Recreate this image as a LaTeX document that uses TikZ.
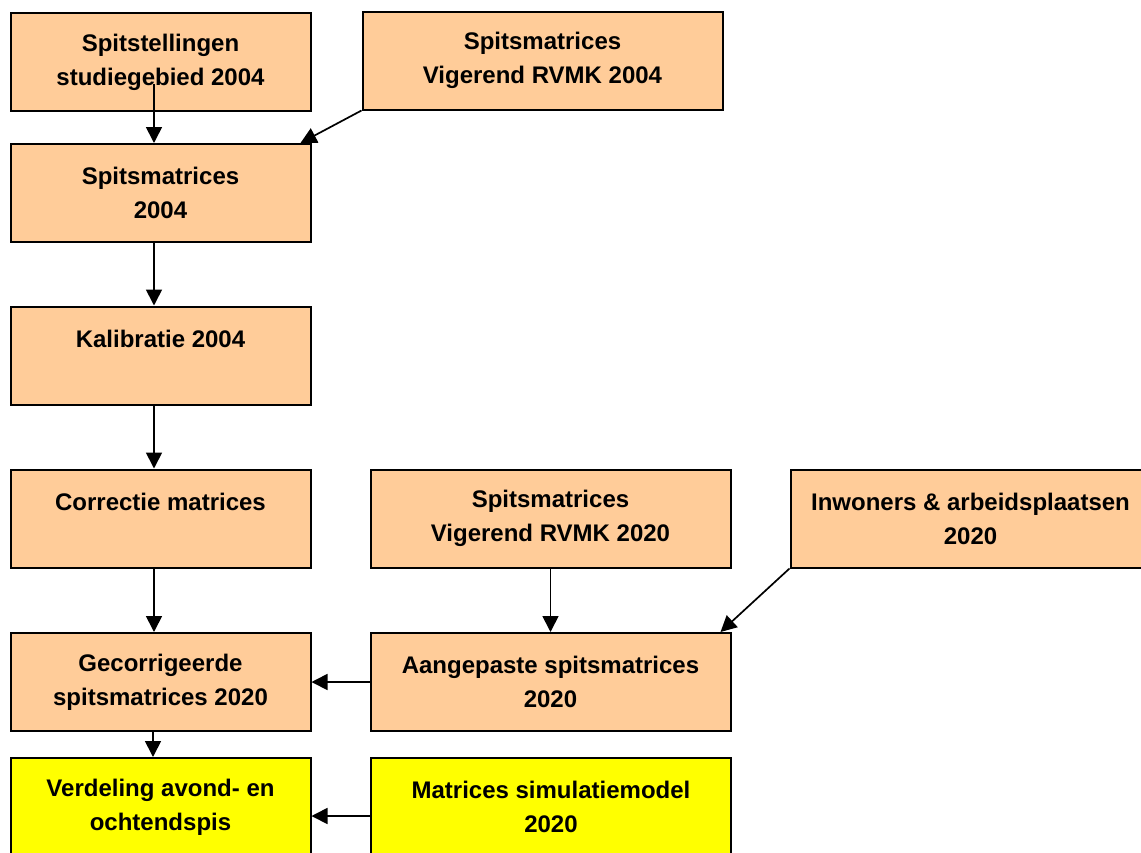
\documentclass[tikz,border=0pt]{standalone}
\usepackage{fontspec}
\setmainfont{Liberation Sans}
\usetikzlibrary{arrows.meta}
\definecolor{peach}{HTML}{FFCC99}
\definecolor{geel}{HTML}{FFFF00}

\begin{document}
\begin{tikzpicture}[x=1pt,y=-1pt]
\tikzstyle{every node}+=[node distance=163pt]
\tikzstyle{stap}=[draw,line width=2pt,fill=peach,minimum width=300pt,minimum height=98pt,inner sep=0pt,align=center,font=\fontsize{24}{34}\selectfont\bfseries]
\tikzstyle{breed}=[minimum width=360pt]
\tikzstyle{uitvoer}=[stap,fill=geel]
\tikzstyle{pijl}=[line width=1.7pt,-{Triangle[length=16pt,width=16pt]}]

\useasboundingbox (0,0) rectangle (1141,852);

\node (tellingen) [stap] at (160.5,62) {Spitstellingen\\studiegebied 2004};
\node (rvmk04) [stap,breed] at (542.5,60.5) {Spitsmatrices\\Vigerend RVMK 2004};
\node (spits04) [stap,below of=tellingen,node distance=131pt] {Spitsmatrices\\2004};
\node (kalibratie) [stap,below of=spits04,node distance=162.5pt] {Kalibratie 2004\\~};
\node (correctie) [stap,below of=kalibratie] {Correctie matrices\\~};
\node (rvmk20) [stap,breed,right of=correctie,node distance=390pt] {Spitsmatrices\\Vigerend RVMK 2020};
\node (inwoners) [stap,breed,right of=rvmk20,node distance=420pt] {Inwoners \& arbeidsplaatsen\\2020};
\node (gecorr) [stap,below of=correctie,node distance=163.5pt] {Gecorrigeerde\\spitsmatrices 2020};
\node (aangepast) [stap,breed,right of=gecorr,node distance=390pt] {Aangepaste spitsmatrices\\2020};
\node (verdeling) [uitvoer,below of=gecorr,node distance=125pt] {Verdeling avond- en\\ochtendspis};
\node (matsim) [uitvoer,breed,right of=verdeling,node distance=390.5pt] {Matrices simulatiemodel\\2020};

\draw[pijl] ([xshift=-6.5pt,yshift=28pt]tellingen.south) -- ([xshift=-6.5pt]spits04.north);
\draw[pijl] (rvmk04.south west) -- ([xshift=-11pt]spits04.north east);
\draw[pijl] ([xshift=-6.5pt]spits04.south) -- ([xshift=-6.5pt]kalibratie.north);
\draw[pijl] ([xshift=-6.5pt]kalibratie.south) -- ([xshift=-6.5pt]correctie.north);
\draw[pijl] ([xshift=-6.5pt]correctie.south) -- ([xshift=-6.5pt]gecorr.north);
\draw[pijl] (rvmk20) -- (aangepast);
\draw[pijl] (inwoners.south west) -- ([xshift=-11pt]aangepast.north east);
\draw[pijl] (aangepast) -- (gecorr);
\draw[pijl] ([xshift=-7.5pt]gecorr.south) -- ([xshift=-7.5pt]verdeling.north);
\draw[pijl] ([yshift=-9pt]matsim.west) -- ([yshift=-9pt]verdeling.east);
\end{tikzpicture}
\end{document}
